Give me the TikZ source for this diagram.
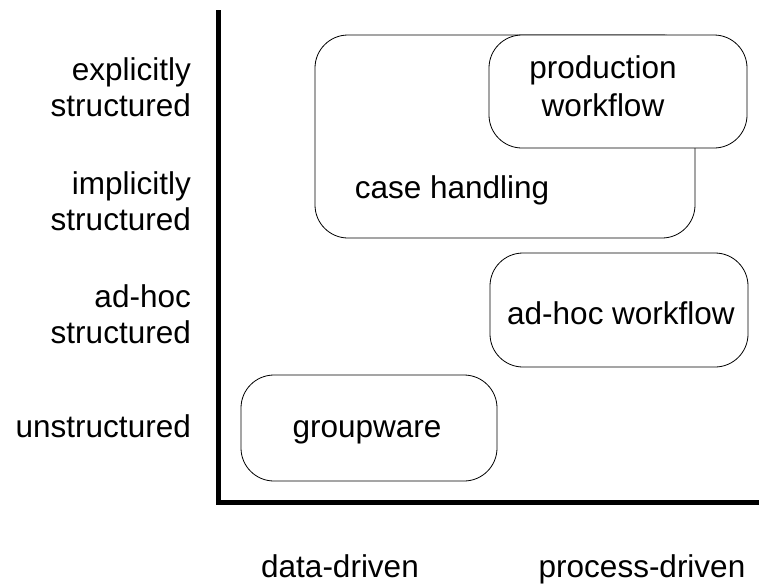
\documentclass[tikz,border=0pt]{standalone}
\usepackage{fontspec}
\setmainfont{Liberation Sans}
\usetikzlibrary{positioning}

\begin{document}
\begin{tikzpicture}[
        x=1pt, y=-1pt,
        region/.style={draw=black, fill=white, line width=0.8pt, rounded corners=33pt, inner sep=0pt},
        txt/.style={font=\fontsize{31.5}{36}\selectfont, align=center, inner sep=0pt},
        axis/.style={line width=5pt, line join=miter}]

        \useasboundingbox (0,0) rectangle (759,584);

        % AXES
        \coordinate (ytop) at (218,10);
        \coordinate (origin) at (218,502);
        \coordinate (xend) at (759,502);
        \draw[axis] (ytop)--(origin)--(xend);

        % REGIONS
        % case handling
        \node[region, minimum width=380pt, minimum height=203pt] (caseBox) at (505,136.5) {};
        \node[txt, anchor=base] (caseTxt) at (452,198) {case handling};
        % production workflow
        \node[region, minimum width=258pt, minimum height=113pt] (prodBox) at (618,91.5) {};
        \node[txt, font=\fontsize{31.5}{38}\selectfont] (prodTxt) at (603,86.5) {production\\workflow};
        % ad-hoc workflow
        \node[region, minimum width=258pt, minimum height=114pt] (adhocBox) at (619,310) {};
        \node[txt, anchor=base] (adhocTxt) at (621,324) {ad-hoc workflow};
        % groupware
        \node[region, minimum width=256pt, minimum height=106pt] (groupBox) at (369,428) {};
        \node[txt, anchor=base] (groupTxt) at (367,437) {groupware};

        % LABELS
        % structure (left)
        \node[txt, align=right, anchor=east] (explicit) at (191,87.5) {explicitly\\structured};
        \node[txt, align=right, anchor=east] (implicit) at (191,201) {implicitly\\structured};
        \node[txt, align=right, anchor=east] (adhoc) at (191,314) {ad-hoc\\structured};
        \node[txt, anchor=base east] (unstruct) at (191,437) {unstructured};
        % driver (bottom)
        \node[txt, anchor=base] (data) at (340,577) {data-driven};
        \node[txt, anchor=base] (process) at (642,577) {process-driven};
\end{tikzpicture}
\end{document}
